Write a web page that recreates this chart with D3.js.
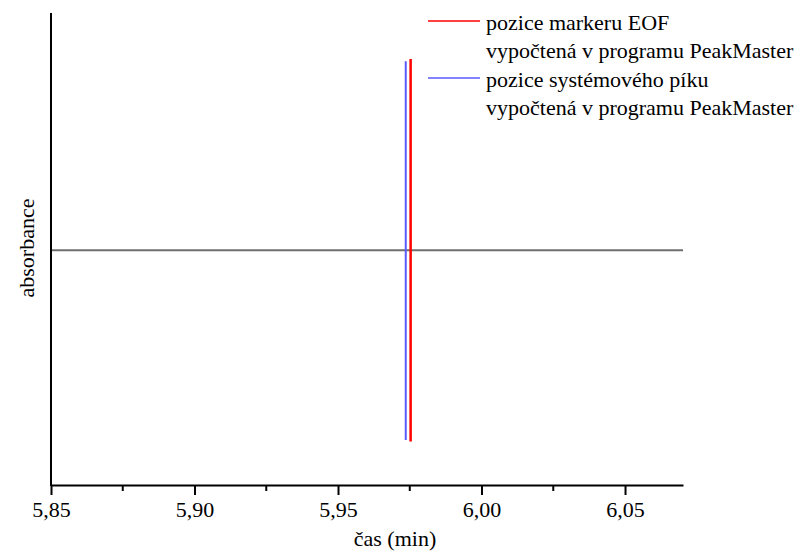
<!DOCTYPE html>
<html>
<head>
<meta charset="utf-8">
<script src="https://cdn.jsdelivr.net/npm/d3@7"></script>
<style>
  body { margin: 0; background: #fff; }
</style>
</head>
<body>
<div id="chart"></div>
<script>
// Data
const signalTime = [5.85, 6.0702];
const signalAbs = [0, 0];

const eofTime = 5.9753;          // red, marker EOF
const eofAbs = [-0.815, 0.814];
const peakTime = 5.9736;         // blue, system peak
const peakAbs = [-0.808, 0.805];

const majorTicks = [5.85, 5.9, 5.95, 6.0, 6.05];
const minorTicks = [5.875, 5.925, 5.975, 6.025];

const legendLabels = [
  ["pozice markeru EOF", "vypočtená v programu PeakMaster"],
  ["pozice systémového píku", "vypočtená v programu PeakMaster"],
];
const legendColors = ["#ff0000", "#5a5aff"];

const serif = "Liberation Serif";

// Dimensions
const dimensions = {
  width: 798,
  height: 551,
  left: 51,
  right: 683,
  top: 13,
  bottom: 485,
};

const svg = d3
  .select("#chart")
  .append("svg")
  .attr("width", dimensions.width)
  .attr("height", dimensions.height);

// Scales
const xScale = d3
  .scaleLinear()
  .domain([5.85, 6.0702])
  .range([dimensions.left, dimensions.right]);

const yScale = d3
  .scaleLinear()
  .domain([-1, 1.01])
  .range([dimensions.bottom, dimensions.top]);

// flat signal
const line = d3
  .line()
  .x((d) => xScale(d[0]))
  .y((d) => yScale(d[1]));

svg
  .append("path")
  .datum(d3.zip(signalTime, signalAbs))
  .attr("d", line)
  .attr("fill", "none")
  .attr("stroke", "#6e6e6e")
  .attr("stroke-width", 2);

// vertical markers
svg
  .append("line")
  .attr("x1", xScale(peakTime))
  .attr("x2", xScale(peakTime))
  .attr("y1", yScale(peakAbs[0]))
  .attr("y2", yScale(peakAbs[1]))
  .attr("stroke", legendColors[1])
  .attr("stroke-width", 2);

svg
  .append("line")
  .attr("x1", xScale(eofTime))
  .attr("x2", xScale(eofTime))
  .attr("y1", yScale(eofAbs[0]))
  .attr("y2", yScale(eofAbs[1]))
  .attr("stroke", legendColors[0])
  .attr("stroke-width", 2.5);

// Axis
const xAxis = d3
  .axisBottom(xScale)
  .tickValues(majorTicks)
  .tickSize(10)
  .tickSizeOuter(0)
  .tickPadding(6)
  .tickFormat((d) => d3.format(".2f")(d).replace(".", ","));

const xAxisGroup = svg
  .append("g")
  .attr("transform", `translate(0, ${dimensions.bottom})`)
  .call(xAxis);

xAxisGroup.select(".domain").attr("stroke-width", 2);
xAxisGroup.selectAll(".tick line").attr("stroke-width", 2);
xAxisGroup
  .selectAll(".tick text")
  .attr("font-family", serif)
  .attr("font-size", 22);

xAxisGroup
  .selectAll(".minor")
  .data(minorTicks)
  .join("line")
  .attr("class", "minor")
  .attr("x1", (d) => xScale(d))
  .attr("x2", (d) => xScale(d))
  .attr("y1", 0)
  .attr("y2", 6)
  .attr("stroke", "#000")
  .attr("stroke-width", 2);

svg
  .append("line")
  .attr("x1", dimensions.left)
  .attr("x2", dimensions.left)
  .attr("y1", dimensions.top)
  .attr("y2", dimensions.bottom + 1)
  .attr("stroke", "#000")
  .attr("stroke-width", 2);

// axis titles
svg
  .append("text")
  .attr("x", 395)
  .attr("y", 546)
  .attr("text-anchor", "middle")
  .attr("font-family", serif)
  .attr("font-size", 22)
  .text("čas (min)");

svg
  .append("text")
  .attr("transform", `translate(34, 248) rotate(-90)`)
  .attr("text-anchor", "middle")
  .attr("font-family", serif)
  .attr("font-size", 22)
  .text("absorbance");

// Legend
legendLabels.forEach((rows, i) => {
  const y0 = 21 + i * 57;

  svg
    .append("path")
    .attr("d", d3.line()([[428, y0], [480, y0]]))
    .attr("fill", "none")
    .attr("stroke", legendColors[i])
    .attr("stroke-width", 1.5);

  rows.forEach((r, j) => {
    svg
      .append("text")
      .attr("x", 486)
      .attr("y", y0 + 9 + j * 28)
      .attr("font-family", serif)
      .attr("font-size", 22)
      .text(r);
  });
});
</script>
</body>
</html>
